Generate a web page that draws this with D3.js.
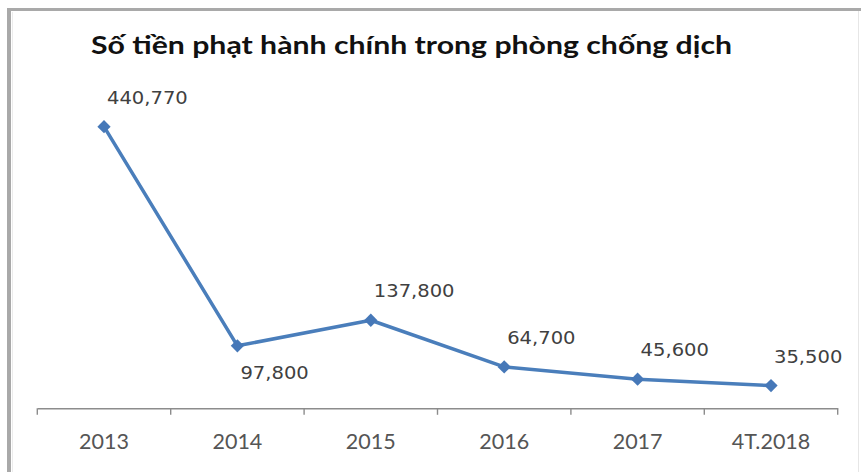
<!DOCTYPE html>
<html>
<head>
<meta charset="utf-8">
<script src="https://cdn.jsdelivr.net/npm/d3@7"></script>
<style>
  html, body { margin: 0; padding: 0; background: #fff; }
  svg { display: block; }
</style>
</head>
<body>
<svg id="chart" width="861" height="472"></svg>
<script>
// Administrative fines collected in epidemic prevention, by year
const title = "Số tiền phạt hành chính trong phòng chống dịch";
const categories = ["2013", "2014", "2015", "2016", "2017", "4T.2018"];
const values = [440770, 97800, 137800, 64700, 45600, 35500];
const labelSide = ["above", "below", "above", "above", "above", "above"];

const W = 861, H = 472;
const svg = d3.select("#chart");

// frame
svg.append("rect").attr("width", W).attr("height", H).attr("fill", "#fff");
svg.append("line").attr("x1", 7).attr("x2", W).attr("y1", 9.5).attr("y2", 9.5)
  .attr("stroke", "#a9a9a9").attr("stroke-width", 3);
svg.append("line").attr("x1", 9).attr("x2", 9).attr("y1", 8).attr("y2", H)
  .attr("stroke", "#a9a9a9").attr("stroke-width", 4);
svg.append("line").attr("x1", 12.5).attr("x2", 12.5).attr("y1", 12).attr("y2", H)
  .attr("stroke", "#ececec").attr("stroke-width", 1);
svg.append("line").attr("x1", 858.5).attr("x2", 858.5).attr("y1", 11).attr("y2", H)
  .attr("stroke", "#e6e6e6").attr("stroke-width", 1);

// title
svg.append("text")
  .attr("x", 91).attr("y", 54)
  .attr("font-family", "Lato, 'Open Sans', sans-serif")
  .attr("font-weight", 700)
  .attr("font-size", 24)
  .attr("fill", "#111")
  .attr("textLength", 641)
  .attr("lengthAdjust", "spacingAndGlyphs")
  .text(title);

// scales
const x = d3.scaleBand().domain(categories).range([37.3, 837.7]).padding(0);
const y = d3.scaleLinear().domain([0, 500000]).range([408.3, 88.8]);
const cx = c => x(c) + x.bandwidth() / 2;

// category axis: labels centred in bands, ticks on band boundaries
const axis = d3.axisBottom(x).tickSize(0).tickPadding(0);
const gAxis = svg.append("g").attr("transform", `translate(0,${y(0)})`).call(axis);
gAxis.select(".domain").attr("stroke", "#8c8c8c").attr("stroke-width", 1.6);
gAxis.selectAll(".tick text")
  .attr("font-family", "Lato, 'Open Sans', sans-serif")
  .attr("font-size", 21.5)
  .attr("fill", "#555")
  .attr("dy", 0)
  .attr("y", 41);
const bounds = categories.map(c => x(c)).concat([x.range()[1]]);
gAxis.selectAll(".bound").data(bounds).join("line")
  .attr("class", "bound")
  .attr("x1", d => d).attr("x2", d => d)
  .attr("y1", 0).attr("y2", 6.5)
  .attr("stroke", "#8c8c8c").attr("stroke-width", 1.4);

// series line
const blue = "#4a7ebb";
const line = d3.line().x((d, i) => cx(categories[i])).y(d => y(d));
svg.append("path").datum(values)
  .attr("d", line)
  .attr("fill", "none")
  .attr("stroke", blue)
  .attr("stroke-width", 3.5)
  .attr("stroke-linejoin", "round");

// diamond markers
const diamond = d3.symbol(d3.symbolSquare, 88);
svg.selectAll(".marker").data(values).join("path")
  .attr("class", "marker")
  .attr("d", diamond)
  .attr("transform", (d, i) => `translate(${cx(categories[i])},${y(d)}) rotate(45)`)
  .attr("fill", "#4678b8");

// value labels (slightly wide-set digits)
const fmt = d3.format(",");
svg.selectAll(".vlabel").data(values).join("text")
  .attr("class", "vlabel")
  .attr("transform", (d, i) =>
    `translate(${cx(categories[i]) + 3},${y(d) + (labelSide[i] === "below" ? 33 : -23)}) scale(1.15,1)`)
  .attr("font-family", "'DejaVu Sans', Verdana, sans-serif")
  .attr("font-size", 17)
  .attr("fill", "#404040")
  .text(d => fmt(d));
</script>
</body>
</html>
